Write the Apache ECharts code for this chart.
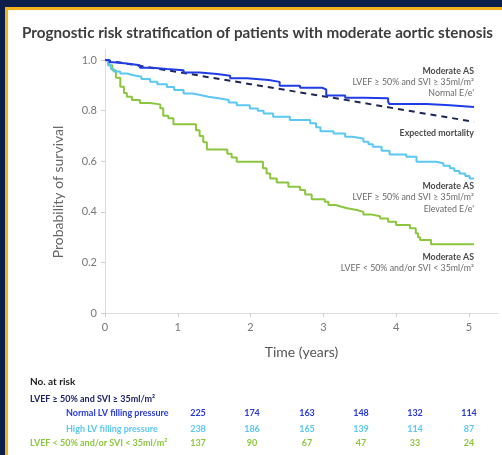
<!DOCTYPE html>
<html>
<head>
<meta charset="utf-8">
<script src="https://cdn.jsdelivr.net/npm/echarts@6/dist/echarts.min.js"></script>
<style>
  html, body { margin: 0; padding: 0; background: #0c1f4a; }
  #chart { width: 502px; height: 455px; }
</style>
</head>
<body>
<div id="chart"></div>
<script>
// Kaplan-Meier survival, moderate aortic stenosis subgroups (time in years, survival probability)
const normalEe = [
  [0,1.0],[0.06,0.992],[0.12,0.987],[0.3,0.98],[0.48,0.97],[0.65,0.965],[0.85,0.96],
  [1.08,0.951],[1.3,0.945],[1.54,0.938],[1.72,0.928],[1.95,0.921],[2.25,0.914],
  [2.4,0.899],[2.68,0.891],[2.98,0.884],[3.04,0.86],[3.3,0.851],[3.55,0.849],
  [3.89,0.835],[3.91,0.826],[4.42,0.822],[4.74,0.815],[5.07,0.815]
];
const elevatedEe = [
  [0,1.0],[0.04,0.98],[0.08,0.965],[0.12,0.955],[0.21,0.947],[0.3,0.94],[0.39,0.934],
  [0.5,0.925],[0.62,0.914],[0.72,0.905],[0.85,0.894],[0.95,0.882],[1.08,0.868],
  [1.2,0.862],[1.31,0.855],[1.42,0.848],[1.58,0.842],[1.7,0.832],[1.81,0.822],
  [1.99,0.809],[2.1,0.8],[2.18,0.789],[2.31,0.776],[2.54,0.763],[2.82,0.75],
  [2.9,0.735],[2.96,0.719],[3.14,0.71],[3.3,0.697],[3.4,0.69],[3.55,0.677],
  [3.62,0.667],[3.68,0.657],[3.8,0.642],[3.91,0.627],[4.14,0.618],[4.28,0.598],
  [4.55,0.592],[4.65,0.582],[4.74,0.572],[4.8,0.562],[4.87,0.552],[4.95,0.542],
  [5.01,0.532],[5.07,0.53]
];
const reducedEF = [
  [0,1.0],[0.05,0.98],[0.1,0.96],[0.15,0.93],[0.21,0.895],[0.26,0.87],[0.3,0.855],
  [0.37,0.842],[0.48,0.83],[0.62,0.825],[0.76,0.81],[0.8,0.78],[0.87,0.77],[0.94,0.746],
  [1.25,0.723],[1.3,0.7],[1.35,0.675],[1.4,0.647],[1.68,0.63],[1.74,0.615],[1.81,0.598],
  [2.17,0.572],[2.22,0.552],[2.27,0.532],[2.36,0.516],[2.52,0.499],[2.68,0.486],
  [2.75,0.469],[2.84,0.45],[3.02,0.44],[3.07,0.427],[3.17,0.42],[3.25,0.414],
  [3.33,0.407],[3.46,0.4],[3.55,0.39],[3.65,0.383],[3.78,0.374],[3.89,0.361],[4.0,0.348],
  [4.19,0.335],[4.27,0.315],[4.3,0.3],[4.33,0.289],[4.48,0.272],[5.07,0.272]
];
const expected = [[0,1.0],[1,0.953],[1.58,0.925],[2,0.905],[3,0.857],[3.36,0.84],[4,0.808],[5.07,0.756]];

const yTicks = [0, 0.2, 0.4, 0.6, 0.8, 1.0];
const xTicks = [0, 1, 2, 3, 4, 5];

// Numbers at risk
const riskRows = ['Normal LV filling pressure', 'High LV filling pressure', 'LVEF < 50% and/or SVI < 35ml/m²'];
const riskNormal = [225, 174, 163, 148, 132, 114];
const riskHigh = [238, 186, 165, 139, 114, 87];
const riskReduced = [137, 90, 67, 47, 33, 24];

const C_NAVY = '#0c1f4a', C_GOLD = '#f4b31c';
const C_BLUE = '#1f3ce6', C_CYAN = '#5ac8f2', C_GREEN = '#8cc63f', C_DASH = '#1d2552';

const chart = echarts.init(document.getElementById('chart'));

const labelFont = 'Lato, "Noto Sans", sans-serif';
function sideText(x, y, text, bold) {
  return { type: 'text', x: x, y: y, style: { text: text, align: 'right', verticalAlign: 'middle',
    font: (bold ? 'bold ' : '') + '8.8px ' + labelFont, fill: bold ? '#4a4a4a' : '#6a6a6a' } };
}
const riskCols = [198, 252, 307, 361, 415, 469];
function riskNums(vals, y, color) {
  return vals.map((v, i) => ({ type: 'text', x: riskCols[i], y: y, style: { text: String(v),
    align: 'center', verticalAlign: 'middle', font: 'bold 9px ' + labelFont, fill: color } }));
}

const graphics = [
  { type: 'rect', z: -10, shape: { x: 0, y: 0, width: 502, height: 455 }, style: { fill: C_NAVY } },
  { type: 'rect', z: -9, shape: { x: 5, y: 7, width: 497, height: 448 }, style: { fill: C_GOLD } },
  { type: 'rect', z: -8, shape: { x: 8, y: 10, width: 494, height: 445 }, style: { fill: '#ffffff' } },
  { type: 'text', x: 58, y: 192, rotation: Math.PI / 2, style: { text: 'Probability of survival',
    align: 'center', verticalAlign: 'middle', font: '14px ' + labelFont, fill: '#666' } },
  sideText(474, 71, 'Moderate AS', true),
  sideText(474, 82, 'LVEF ≥ 50% and SVI ≥ 35ml/m²', false),
  sideText(474, 93, "Normal E/e'", false),
  sideText(474, 133, 'Expected mortality', true),
  sideText(474, 186, 'Moderate AS', true),
  sideText(474, 197, 'LVEF ≥ 50% and SVI ≥ 35ml/m²', false),
  sideText(474, 209, "Elevated E/e'", false),
  sideText(474, 257, 'Moderate AS', true),
  sideText(474, 268, 'LVEF < 50% and/or SVI < 35ml/m²', false),
  { type: 'text', x: 30, y: 382, style: { text: 'No. at risk', verticalAlign: 'middle',
    font: 'bold 10px ' + labelFont, fill: '#222' } },
  { type: 'text', x: 30, y: 399, style: { text: 'LVEF ≥ 50% and SVI ≥ 35ml/m²', verticalAlign: 'middle',
    font: 'bold 9px ' + labelFont, fill: '#1d2366' } },
  { type: 'text', x: 66, y: 413, style: { text: riskRows[0], verticalAlign: 'middle',
    font: 'bold 9px ' + labelFont, fill: '#2a3ad8' } },
  { type: 'text', x: 66, y: 429, style: { text: riskRows[1], verticalAlign: 'middle',
    font: 'bold 9px ' + labelFont, fill: C_CYAN } },
  { type: 'text', x: 30, y: 443, style: { text: riskRows[2], verticalAlign: 'middle',
    font: 'bold 9px ' + labelFont, fill: C_GREEN } },
  ...riskNums(riskNormal, 413, '#2a3ad8'),
  ...riskNums(riskHigh, 429, C_CYAN),
  ...riskNums(riskReduced, 443, C_GREEN)
];

const option = {
  animation: false,
  title: {
    text: 'Prognostic risk stratification of patients with moderate aortic stenosis',
    left: 17, top: 21,
    textStyle: { fontFamily: labelFont, fontSize: 15.2, fontWeight: 'bold', color: '#3d3d3d' }
  },
  grid: { left: 105, right: 4, top: 50, bottom: 142 },
  xAxis: {
    type: 'value', min: 0, max: 5.4,
    name: 'Time (years)', nameLocation: 'middle', nameGap: 32,
    nameTextStyle: { fontFamily: labelFont, fontSize: 14, color: '#555' },
    axisLine: { lineStyle: { color: '#dcdcdc', width: 1 } },
    axisTick: { show: true, length: 4, lineStyle: { color: '#cfcfcf' }, customValues: xTicks },
    axisLabel: { customValues: xTicks, margin: 9, fontFamily: labelFont, fontSize: 11, color: '#777' },
    splitLine: { show: false }
  },
  yAxis: {
    type: 'value', min: 0, max: 1.04,
    axisLine: { show: true, lineStyle: { color: '#dcdcdc', width: 1 } },
    axisTick: { show: true, length: 4, lineStyle: { color: '#cfcfcf' }, customValues: yTicks },
    axisLabel: { customValues: yTicks, margin: 8, fontFamily: labelFont, fontSize: 11, color: '#777',
      formatter: v => (v === 0 ? '0' : v.toFixed(1)) },
    splitLine: { show: false }
  },
  graphic: graphics,
  series: [
    { type: 'line', data: expected, showSymbol: false, smooth: false, z: 3,
      lineStyle: { color: C_DASH, width: 2, type: [6, 5] } },
    { type: 'line', data: reducedEF, step: 'end', showSymbol: false, z: 4,
      lineStyle: { color: C_GREEN, width: 2 } },
    { type: 'line', data: elevatedEe, step: 'end', showSymbol: false, z: 4,
      lineStyle: { color: C_CYAN, width: 2 } },
    { type: 'line', data: normalEe, step: 'end', showSymbol: false, z: 5,
      lineStyle: { color: C_BLUE, width: 2 } }
  ]
};
chart.setOption(option);
</script>
</body>
</html>
